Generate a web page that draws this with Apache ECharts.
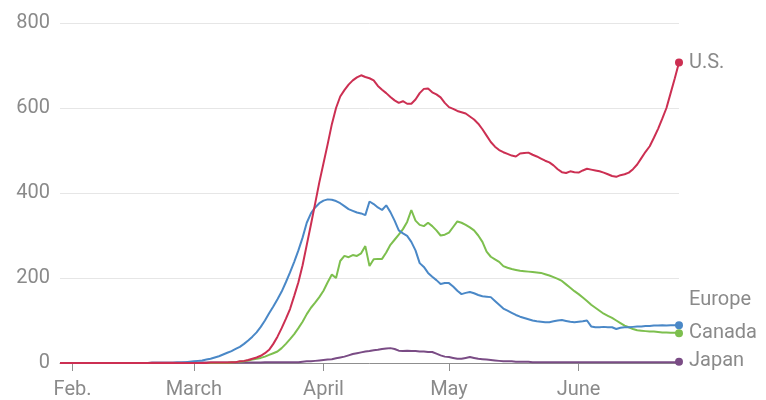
<!DOCTYPE html>
<html>
<head>
<meta charset="utf-8">
<script src="https://cdn.jsdelivr.net/npm/echarts@6/dist/echarts.min.js"></script>
<style>
html,body{margin:0;padding:0;background:#fff;}
#chart{width:766px;height:400px;}
</style>
</head>
<body>
<div id="chart"></div>
<script>
// Daily dates from 2020-01-29 to 2020-06-25
const startDate = '2020-01-29';
const dayCount = 149;
const monthNames = {'02': 'Feb.', '03': 'March', '04': 'April', '05': 'May', '06': 'June'};
const yTicks = [0, 200, 400, 600, 800];

const usValues = [
  0,0,0,0,0,0,0,0,0,0,
  0,0,0,0,0,0,0,0,0,0,
  0,0,0,0,0,0,0,0,0,0,
  0,0,0,0,0,0,1,1,1,1,
  1,2,2,4,5,7,10,13,17,23,
  31,45,62,82,104,127,158,190,230,278,
  326,375,425,470,515,562,600,627,642,655,
  665,672,677,673,670,665,652,643,635,626,
  618,612,616,610,610,620,635,645,646,637,
  632,625,612,602,598,593,590,587,580,573,
  563,550,535,520,509,501,496,492,488,486,
  493,494,495,490,486,481,476,472,465,456,
  449,447,451,449,448,453,457,455,453,451,
  448,444,440,438,442,444,448,456,467,482,
  497,510,530,551,575,600,635,670,707
];
const europeValues = [
  0,0,0,0,0,0,0,0,0,0,
  0,0,0,0,0,0,0,0,0,0,
  0,0,0,0,0,0,0,0,1,1,
  2,3,4,5,6,8,10,13,16,20,
  24,28,33,38,45,53,62,72,85,100,
  117,133,150,168,190,213,238,265,295,330,
  352,366,376,382,385,384,381,376,369,362,
  358,354,352,348,380,374,366,360,371,355,
  335,312,305,299,285,265,235,226,212,203,
  195,186,188,188,180,170,162,165,167,164,
  160,157,156,155,146,137,128,123,118,113,
  109,106,103,100,98,97,96,96,98,100,
  101,99,97,96,97,98,100,86,84,84,
  85,84,84,80,83,84,84,85,86,86,
  87,87,88,88,89,88,89,89,89
];
const canadaValues = [
  0,0,0,0,0,0,0,0,0,0,
  0,0,0,0,0,0,0,0,0,0,
  0,0,0,0,0,0,0,0,0,0,
  0,0,0,0,0,0,0,0,0,0,
  0,1,2,3,4,6,8,10,12,15,
  19,23,27,35,45,56,68,82,97,115,
  130,142,155,170,190,208,200,240,252,249,
  254,252,258,275,228,244,245,245,260,278,
  290,302,315,332,360,335,325,322,330,322,
  312,300,302,307,320,333,330,325,319,312,
  300,285,262,250,244,238,228,224,221,219,
  217,216,215,214,213,212,209,206,202,198,
  193,185,177,169,162,154,146,137,130,123,
  116,111,106,100,94,88,84,80,77,76,
  75,74,74,73,72,72,71,71,70
];
const japanValues = [
  0,0,0,0,0,0,0,0,0,0,
  0,0,0,0,0,0,0,0,0,0,
  0,0,1,1,1,1,1,1,1,1,
  1,1,1,1,1,1,1,1,1,1,
  1,1,1,1,1,1,1,1,1,2,
  2,2,2,2,2,2,2,2,3,4,
  4,5,6,7,8,9,11,13,15,18,
  21,23,25,27,28,30,31,33,34,35,
  33,29,28,29,28,28,27,27,26,26,
  22,18,15,14,12,10,10,12,14,12,
  10,9,8,7,6,5,4,4,4,3,
  3,3,3,2,2,2,2,2,2,2,
  2,2,2,2,2,2,2,2,2,2,
  2,2,2,2,2,2,2,2,2,2,
  2,2,2,2,2,2,2,2,3
];

const seriesNames = ['Japan', 'Canada', 'Europe', 'U.S.'];
const seriesColors = ['#7a4c85', '#7dbf4e', '#4a88c7', '#cc2f52'];
const seriesData = [japanValues, canadaValues, europeValues, usValues];
const labelOffsets = [[0, -1], [0, 0], [0, -25], [0, 0]];

const dates = [];
(function () {
  const d0 = new Date(startDate + 'T00:00:00Z');
  for (let i = 0; i < dayCount; i++) {
    const d = new Date(d0.getTime() + i * 86400000);
    dates.push(d.toISOString().slice(0, 10));
  }
})();

const isMonthStart = (idx, val) => dates[idx].slice(8) === '01';
const FONT = 'Roboto, "Liberation Sans", sans-serif';
const last = dayCount - 1;

const chart = echarts.init(document.getElementById('chart'), null, {renderer: 'canvas'});
chart.setOption({
  animation: false,
  backgroundColor: '#ffffff',
  grid: {left: 60, right: 87, top: 23, bottom: 36, containLabel: false},
  xAxis: {
    type: 'category',
    data: dates,
    boundaryGap: false,
    axisLine: {show: true, lineStyle: {color: '#8f8f8f', width: 1}},
    axisTick: {show: true, interval: isMonthStart, length: 8, lineStyle: {color: '#8f8f8f'}},
    axisLabel: {
      interval: isMonthStart,
      color: '#8a8a8a',
      fontSize: 20,
      fontFamily: FONT,
      margin: 17,
      formatter: v => monthNames[v.slice(5, 7)] || ''
    },
    splitLine: {show: false}
  },
  yAxis: {
    type: 'value',
    min: yTicks[0],
    max: yTicks[yTicks.length - 1],
    interval: yTicks[1] - yTicks[0],
    axisLine: {show: false},
    axisTick: {show: false},
    axisLabel: {color: '#8a8a8a', fontSize: 20, fontFamily: FONT, margin: 10},
    splitLine: {lineStyle: {color: '#e6e6e6', width: 1}}
  },
  series: seriesNames.map((name, i) => ({
    name: name,
    type: 'line',
    data: seriesData[i],
    showSymbol: true,
    showAllSymbol: true,
    symbol: (value, params) => params.dataIndex === last ? 'circle' : 'none',
    symbolSize: 8,
    lineStyle: {color: seriesColors[i], width: 2},
    itemStyle: {color: seriesColors[i]},
    emphasis: {disabled: true},
    silent: true,
    endLabel: {
      show: true,
      formatter: name,
      color: '#8a8a8a',
      fontSize: 20,
      fontFamily: FONT,
      distance: 10,
      offset: labelOffsets[i]
    }
  }))
});
</script>
</body>
</html>
